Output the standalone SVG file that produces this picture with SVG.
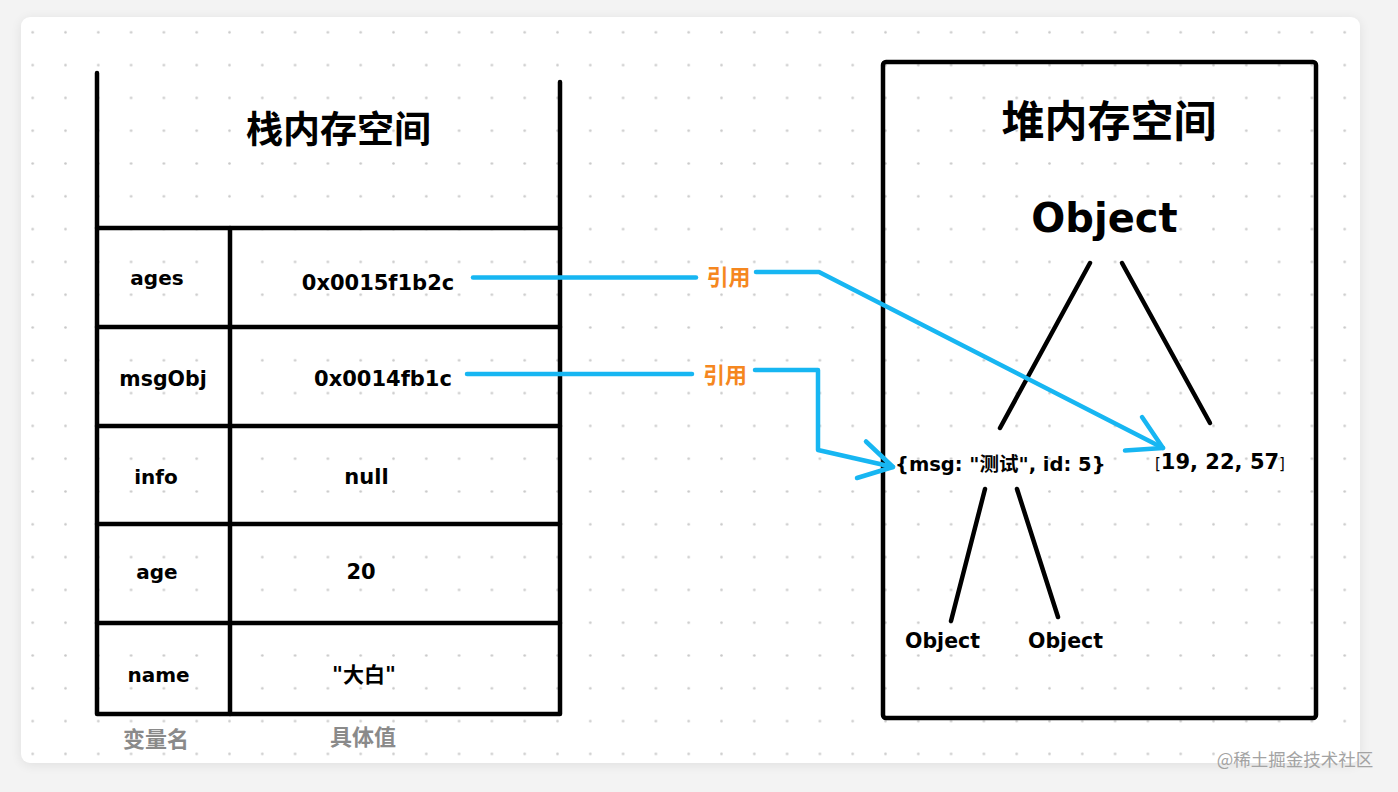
<svg xmlns="http://www.w3.org/2000/svg" width="1398" height="792" viewBox="0 0 1398 792">
<defs>
<pattern id="dots" x="16.3" y="15.9" width="32.8" height="32.8" patternUnits="userSpaceOnUse">
<circle cx="16.4" cy="16.4" r="1.3" fill="#c9c9c9"/>
</pattern>
<filter id="shadow" x="-5%" y="-5%" width="110%" height="110%">
<feGaussianBlur stdDeviation="6"/>
</filter>
<style>
.ln{stroke:#000;stroke-width:4.5;fill:none;stroke-linecap:round;stroke-linejoin:round}
.tl{stroke:#000;stroke-width:4.5;fill:none;stroke-linecap:round}
.cn{stroke:#17b6f2;stroke-width:4.5;fill:none;stroke-linecap:round;stroke-linejoin:round}
.lab{font-family:"DejaVu Sans","Noto Sans CJK SC",sans-serif;font-weight:bold;fill:#000;text-anchor:middle}
.ttl{font-family:"Noto Sans CJK SC",sans-serif;font-weight:bold;fill:#000;text-anchor:middle}
.gray{font-family:"Noto Sans CJK SC",sans-serif;font-weight:bold;fill:#8a8a8a;text-anchor:middle;font-size:22px}
.ref{font-family:"Noto Sans CJK SC",sans-serif;font-weight:bold;fill:#f5871f;text-anchor:middle;font-size:22px}
</style>
</defs>
<rect x="0" y="0" width="1398" height="792" fill="#f3f3f3"/>
<rect x="21" y="19" width="1339" height="746" rx="9" fill="#000" opacity="0.08" filter="url(#shadow)"/>
<rect x="21" y="17" width="1339" height="746" rx="9" fill="#ffffff"/>
<rect x="21" y="17" width="1339" height="746" rx="9" fill="url(#dots)"/>

<g id="stack">
<path class="ln" d="M97,73 L97,714 L560,714 L560,82"/>
<line class="tl" x1="97" y1="228" x2="560" y2="228"/>
<line class="tl" x1="97" y1="327" x2="560" y2="327"/>
<line class="tl" x1="97" y1="426" x2="560" y2="426"/>
<line class="tl" x1="97" y1="524" x2="560" y2="524"/>
<line class="tl" x1="97" y1="623" x2="560" y2="623"/>
<line class="tl" x1="230" y1="228" x2="230" y2="714"/>
<text class="ttl" x="338.5" y="143" font-size="37">栈内存空间</text>
</g>

<g id="row-ages">
<text class="lab" x="157" y="285" font-size="20">ages</text>
<text class="lab" x="378" y="290" font-size="21">0x0015f1b2c</text>
</g>
<g id="row-msgObj">
<text class="lab" x="163" y="386" font-size="20.5">msgObj</text>
<text class="lab" x="383" y="386" font-size="21">0x0014fb1c</text>
</g>
<g id="row-info">
<text class="lab" x="156" y="484" font-size="20">info</text>
<text class="lab" x="366.5" y="484" font-size="21">null</text>
</g>
<g id="row-age">
<text class="lab" x="157" y="579" font-size="20">age</text>
<text class="lab" x="361" y="579" font-size="21">20</text>
</g>
<g id="row-name">
<text class="lab" x="158.5" y="682" font-size="20">name</text>
<text class="lab" x="364" y="682" font-size="21">"大白"</text>
</g>
<g id="captions">
<text class="gray" x="156" y="747">变量名</text>
<text class="gray" x="363" y="745">具体值</text>
</g>

<g id="heap">
<rect class="ln" x="883" y="62" width="433" height="656" rx="3"/>
<text class="ttl" x="1109" y="137" font-size="43">堆内存空间</text>
</g>

<g id="obj-root">
<text class="lab" x="1104.5" y="232" font-size="40">Object</text>
</g>
<g id="obj-msg">
<text class="lab" x="895" y="471" font-size="19.5" style="text-anchor:start">{msg: "测试", id: 5}</text>
</g>
<g id="obj-arr">
<text class="lab" x="1155" y="469" font-size="21" style="text-anchor:start"><tspan font-size="15" font-weight="normal">[</tspan>19, 22, 57<tspan font-size="15" font-weight="normal">]</tspan></text>
</g>
<g id="obj-child1">
<text class="lab" x="942.5" y="648" font-size="20.5">Object</text>
</g>
<g id="obj-child2">
<text class="lab" x="1065.5" y="648" font-size="20.5">Object</text>
</g>

<g id="tree-lines">
<line class="tl" x1="1090" y1="263" x2="1000" y2="428"/>
<line class="tl" x1="1122" y1="263" x2="1210" y2="423"/>
<line class="tl" x1="985" y1="489" x2="951" y2="621"/>
<line class="tl" x1="1017" y1="489" x2="1058" y2="617"/>
</g>

<g id="connectors">
<polyline class="cn" points="473,277.5 696,277.5"/>
<polyline class="cn" points="756,272 819,272 1163,448"/>
<polyline class="cn" points="1142,417 1163,448 1125,450.5"/>
<text class="ref" x="728.5" y="285">引用</text>
<polyline class="cn" points="467,374 692,374"/>
<polyline class="cn" points="755,370 818,370 818,450 893,467"/>
<polyline class="cn" points="866,441.5 893,467 857,478"/>
<text class="ref" x="725" y="382.5">引用</text>
</g>

<text x="1295" y="766" font-family="Noto Sans CJK SC, sans-serif" font-size="17.5" fill="#a3a3a3" text-anchor="middle">@稀土掘金技术社区</text>
</svg>
